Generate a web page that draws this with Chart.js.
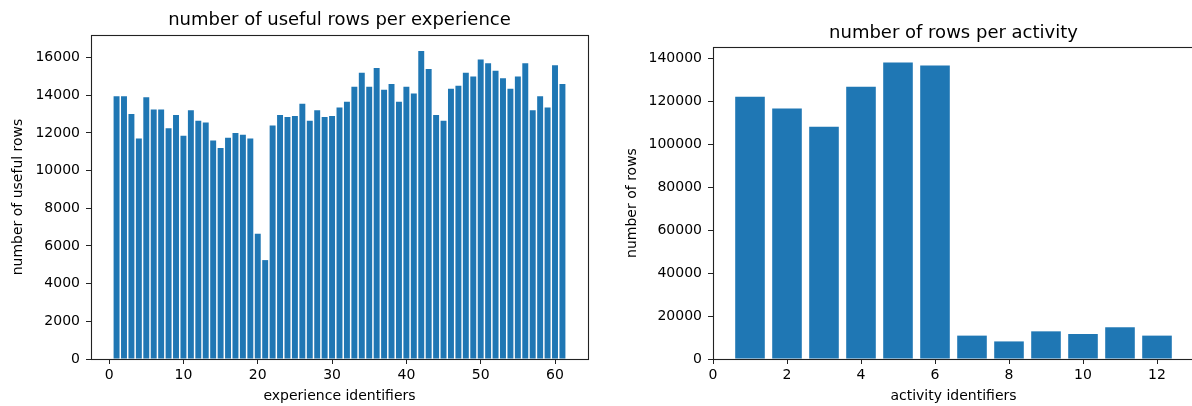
<!DOCTYPE html>
<html>
<head>
<meta charset="utf-8">
<script src="https://cdn.jsdelivr.net/npm/chart.js@4.4.1/dist/chart.umd.min.js"></script>
<style>
  html, body { margin: 0; padding: 0; background: #fff; overflow: hidden; width: 1192px; height: 406px; }
  canvas { position: absolute; top: 0; }
  #exp { left: 0; }
  #act { left: 600px; }
</style>
</head>
<body>
<canvas id="exp" width="600" height="406"></canvas>
<canvas id="act" width="620" height="406"></canvas>
<script>
// experience ids 1..61 and useful rows for each
const experienceIds = [
  1, 2, 3, 4, 5, 6, 7, 8, 9, 10, 11, 12, 13, 14, 15, 16, 17, 18, 19, 20,
  21, 22, 23, 24, 25, 26, 27, 28, 29, 30, 31, 32, 33, 34, 35, 36, 37, 38, 39, 40,
  41, 42, 43, 44, 45, 46, 47, 48, 49, 50, 51, 52, 53, 54, 55, 56, 57, 58, 59, 60, 61
];
const usefulRows = [
  13950, 13950, 13000, 11700, 13900, 13250, 13250, 12250, 12950, 11850,
  13200, 12650, 12550, 11600, 11200, 11750, 12000, 11900, 11700, 6650,
  5250, 12400, 12950, 12850, 12900, 13550, 12650, 13200, 12850, 12900,
  13350, 13650, 14450, 15200, 14450, 15450, 14300, 14600, 13650, 14450,
  14100, 16350, 15400, 12950, 12650, 14350, 14500, 15200, 15000, 15900,
  15700, 15300, 14900, 14350, 15000, 15700, 13200, 13950, 13350, 15600, 14600
];
const expXTicks = [0, 10, 20, 30, 40, 50, 60];
const expYTicks = [0, 2000, 4000, 6000, 8000, 10000, 12000, 14000, 16000];

// activity ids 1..12 and rows for each
const activityIds = [1, 2, 3, 4, 5, 6, 7, 8, 9, 10, 11, 12];
const activityRows = [122300, 116800, 108300, 127000, 138300, 136900, 10900, 8200, 12900, 11650, 14800, 10900];
const actXTicks = [0, 2, 4, 6, 8, 10, 12];
const actYTicks = [0, 20000, 40000, 60000, 80000, 100000, 120000, 140000];

const BLUE = '#1f77b4';
const FONT = 'DejaVu Sans';

// matplotlib-like full box around the plot area + title centred on the axes
const frame = {
  id: 'frame',
  afterDraw(chart, args, o) {
    const { ctx, chartArea } = chart;
    ctx.save();
    ctx.strokeStyle = '#222';
    ctx.lineWidth = 1.1;
    ctx.strokeRect(Math.round(chartArea.left) + 0.5, Math.round(chartArea.top) + 0.5,
      Math.round(chartArea.right - chartArea.left), Math.round(chartArea.bottom - chartArea.top));
    ctx.fillStyle = '#000';
    ctx.font = '18px "' + FONT + '"';
    ctx.textAlign = 'center';
    ctx.textBaseline = 'middle';
    ctx.fillText(o.text, (chartArea.left + chartArea.right) / 2, o.y);
    ctx.restore();
  }
};

function makeChart(el, opts) {
  return new Chart(document.getElementById(el), {
    type: 'bar',
    data: {
      datasets: [{
        data: opts.ids.map((id, i) => ({ x: id, y: opts.values[i] })),
        backgroundColor: BLUE,
        borderWidth: 0,
        barPercentage: 0.8,
        categoryPercentage: 1.0
      }]
    },
    options: {
      responsive: false,
      animation: false,
      layout: { padding: { left: 0, right: opts.padRight, top: opts.top, bottom: 0 } },
      plugins: {
        legend: { display: false },
        tooltip: { enabled: false },
        title: { display: false },
        frame: { text: opts.title, y: opts.titleY }
      },
      scales: {
        x: {
          type: 'linear',
          min: opts.xMin,
          max: opts.xMax,
          offset: false,
          afterBuildTicks: s => { s.ticks = opts.xTicks.map(v => ({ value: v })); },
          afterFit: s => { s.height = 47; },
          border: { display: false },
          grid: { display: true, drawOnChartArea: false, drawTicks: true, tickLength: 5, color: '#222', offset: false },
          ticks: { color: '#000', font: { family: FONT, size: 14 }, padding: 3, maxRotation: 0, callback: v => String(v) },
          title: { display: true, text: opts.xTitle, color: '#000', font: { family: FONT, size: 14 }, padding: { top: 0, bottom: 1 } }
        },
        y: {
          min: 0,
          max: opts.yMax,
          afterBuildTicks: s => { s.ticks = opts.yTicks.map(v => ({ value: v })); },
          afterFit: s => { s.width = opts.yWidth; },
          border: { display: false },
          grid: { display: true, drawOnChartArea: false, drawTicks: true, tickLength: 5, color: '#222' },
          ticks: { color: '#000', font: { family: FONT, size: 14 }, padding: 6, callback: v => String(v) },
          title: { display: true, text: opts.yTitle, color: '#000', font: { family: FONT, size: 14 }, padding: { top: opts.yTitlePad, bottom: 0 } }
        }
      }
    },
    plugins: [frame]
  });
}

makeChart('exp', {
  ids: experienceIds, values: usefulRows,
  title: 'number of useful rows per experience', titleY: 20, top: 35,
  xTitle: 'experience identifiers', yTitle: 'number of useful rows',
  xMin: -2.44, xMax: 64.44, yMax: 17200,
  xTicks: expXTicks, yTicks: expYTicks,
  yWidth: 91, padRight: 12, yTitlePad: 9.6
});

makeChart('act', {
  ids: activityIds, values: activityRows,
  title: 'number of rows per activity', titleY: 33, top: 47,
  xTitle: 'activity identifiers', yTitle: 'number of rows',
  xMin: 0, xMax: 13, yMax: 145500,
  xTicks: actXTicks, yTicks: actYTicks,
  yWidth: 113, padRight: 26, yTitlePad: 23.6
});
</script>
</body>
</html>
